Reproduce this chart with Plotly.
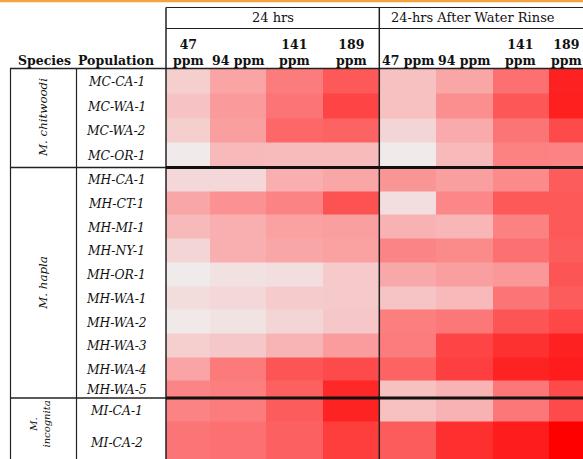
import numpy as np
import plotly.graph_objects as go

# ---------------- data ----------------
species = ["M. chitwoodi", "M. hapla", "M.<br>incognita"]
species_counts = [4, 10, 2]
populations = ["MC-CA-1", "MC-WA-1", "MC-WA-2", "MC-OR-1",
               "MH-CA-1", "MH-CT-1", "MH-MI-1", "MH-NY-1", "MH-OR-1",
               "MH-WA-1", "MH-WA-2", "MH-WA-3", "MH-WA-4", "MH-WA-5",
               "MI-CA-1", "MI-CA-2"]
groups = ["24 hrs", "24-hrs After Water Rinse"]
conc_labels = ["47<br>ppm", "94 ppm", "141<br>ppm", "189<br>ppm",
               "47 ppm", "94 ppm", "141<br>ppm", "189<br>ppm"]

h24 = [
    [12, 30, 47, 62],
    [17, 34, 50, 71],
    [12, 32, 56, 58],
    [0, 21, 20, 20],
    [8, 8, 25, 29],
    [29, 38, 44, 65],
    [21, 25, 31, 32],
    [9, 25, 29, 31],
    [0, 4, 5, 14],
    [6, 8, 13, 14],
    [1, 3, 9, 15],
    [12, 15, 23, 33],
    [30, 48, 64, 68],
    [43, 46, 59, 83],
    [44, 47, 61, 85],
    [50, 52, 59, 74],
]
rinse = [
    [18, 29, 52, 86],
    [18, 39, 63, 87],
    [9, 27, 50, 68],
    [0, 21, 45, 44],
    [36, 32, 41, 61],
    [5, 42, 62, 62],
    [24, 22, 45, 62],
    [43, 41, 52, 61],
    [28, 32, 35, 64],
    [16, 21, 50, 61],
    [46, 49, 64, 70],
    [47, 71, 79, 86],
    [58, 73, 85, 88],
    [18, 23, 49, 68],
    [18, 24, 49, 68],
    [61, 80, 88, 100],
]

# ---------------- layout constants ----------------
W, H = 583, 459
x0_cells = 166.0
col_widths = [44, 55.7, 57, 56.6, 56.7, 56.7, 56, 56]
y0_cells = 68.5
row_heights = [24.75] * 4 + [23.7] * 9 + [17.3] + [23.7, 40]

x_edges = x0_cells + np.concatenate([[0], np.cumsum(col_widths)])
y_edges = y0_cells + np.concatenate([[0], np.cumsum(row_heights)])
x_cent = (x_edges[:-1] + x_edges[1:]) / 2
y_cent = (y_edges[:-1] + y_edges[1:]) / 2
header_x = list(x_cent)
header_x[-1] = 566  # last column is cut by the window edge

z = [a + b for a, b in zip(h24, rinse)]

colorscale = [[0.0, "#f1eaea"], [0.2, "#f8bbbc"], [0.4, "#fb8c8d"],
              [0.6, "#fd5e5e"], [1.0, "#ff0000"]]

fig = go.Figure(go.Heatmap(
    x=x_edges, y=y_edges, z=z, zmin=0, zmax=100,
    colorscale=colorscale, showscale=False, hoverinfo="skip"))

SERIF = "DejaVu Serif"
TXT = "#111111"
ann = []

# group titles
split = x_edges[4]
ann.append(dict(x=(x_edges[0] + split) / 2, y=17.5, text=groups[0],
                font=dict(size=13, family=SERIF, color=TXT)))
ann.append(dict(x=473, y=17.5, text=groups[1],
                font=dict(size=13, family=SERIF, color=TXT)))

# column headers
for xc, lab in zip(header_x, conc_labels):
    ann.append(dict(x=xc, y=69.5, yanchor="bottom", text="<b>%s</b>" % lab,
                    font=dict(size=12.5, family=SERIF, color=TXT)))
ann.append(dict(x=44, y=69.5, yanchor="bottom", text="<b>Species</b>",
                font=dict(size=12.5, family=SERIF, color=TXT)))
ann.append(dict(x=116, y=69.5, yanchor="bottom", text="<b>Population</b>",
                font=dict(size=12.5, family=SERIF, color=TXT)))

# population labels
for yc, p in zip(y_cent, populations):
    ann.append(dict(x=116, y=yc + 1, text="<i>%s</i>" % p,
                    font=dict(size=12.3, family=SERIF, color=TXT)))

# species labels
start = 0
sp_bounds = []
for s, n in zip(species, species_counts):
    top = y_edges[start]
    bot = y_edges[start + n] if start + n < len(y_edges) - 1 else H
    sp_bounds.append(y_edges[start + n])
    two = "<br>" in s
    ann.append(dict(x=40 if two else 43, y=(top + bot) / 2 + (-4 if two else 0),
                    text="<i>%s</i>" % s, textangle=-90,
                    font=dict(size=10 if two else 11.8, family=SERIF, color=TXT)))
    start += n

for a in ann:
    a.setdefault("xanchor", "center")
    a.setdefault("yanchor", "middle")
    a.update(xref="x", yref="y", showarrow=False)

LINE = "#222222"
shapes = [
    dict(type="line", x0=0, x1=W, y0=1, y1=1, line=dict(color="#f4a33e", width=2.5)),
    dict(type="line", x0=x_edges[0], x1=W, y0=7.5, y1=7.5, line=dict(color=LINE, width=1.2)),
    dict(type="line", x0=x_edges[0], x1=W, y0=28.5, y1=28.5, line=dict(color=LINE, width=1.2)),
    dict(type="line", x0=10, x1=W, y0=y0_cells, y1=y0_cells, line=dict(color=LINE, width=1.5)),
    dict(type="line", x0=10.5, x1=10.5, y0=y0_cells, y1=H, line=dict(color=LINE, width=1.2)),
    dict(type="line", x0=76.5, x1=76.5, y0=y0_cells, y1=H, line=dict(color=LINE, width=1.2)),
    dict(type="line", x0=x_edges[0], x1=x_edges[0], y0=7.5, y1=H, line=dict(color=LINE, width=1.5)),
    dict(type="line", x0=split, x1=split, y0=7.5, y1=H, line=dict(color=LINE, width=1.5)),
]
for yb in sp_bounds[:-1]:
    shapes.append(dict(type="line", x0=10, x1=x_edges[0], y0=yb, y1=yb,
                       line=dict(color=LINE, width=1.5)))
    shapes.append(dict(type="line", x0=x_edges[0], x1=W, y0=yb, y1=yb,
                       line=dict(color="#111111", width=3)))

fig.update_layout(
    width=W, height=H, margin=dict(l=0, r=0, t=0, b=0),
    paper_bgcolor="white", plot_bgcolor="white",
    xaxis=dict(range=[0, W], visible=False, fixedrange=True),
    yaxis=dict(range=[H, 0], visible=False, fixedrange=True),
    annotations=ann, shapes=shapes, showlegend=False)

fig.write_html("out.html", config={"displayModeBar": False},
               post_script="document.body.style.margin='0';document.body.style.overflow='hidden';")
